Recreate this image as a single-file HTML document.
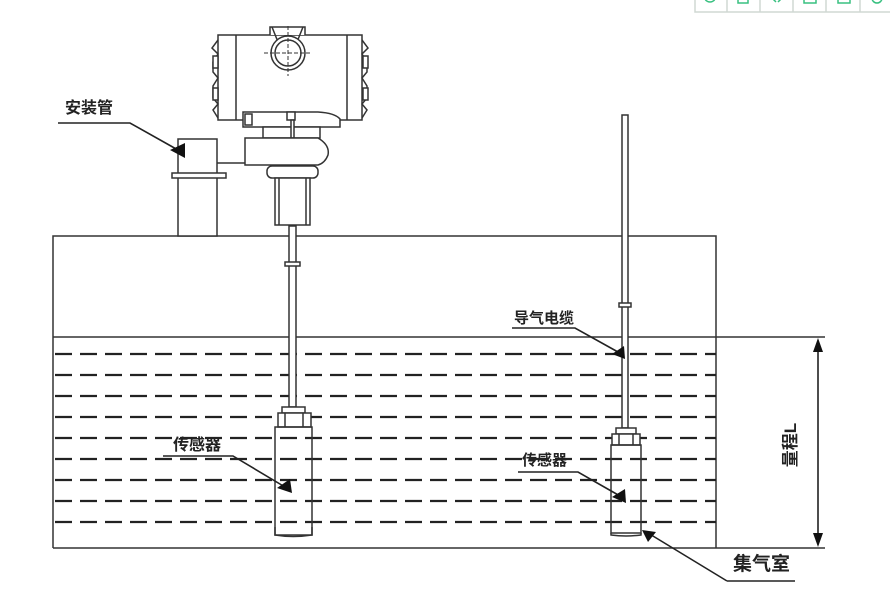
<!DOCTYPE html>
<html><head><meta charset="utf-8"><style>
html,body{margin:0;padding:0;background:#fff;}
svg{display:block}
text{font-family:"Liberation Sans","Noto Sans CJK SC",sans-serif;font-weight:bold;fill:#222}
</style></head><body>
<svg width="890" height="595" viewBox="0 0 890 595" xmlns="http://www.w3.org/2000/svg">
<g stroke="#d0d8d4" fill="none" stroke-width="1.5">
<path d="M695 0 V12 H890"/>
<path d="M727 0V12 M760 0V12 M793 0V12 M826 0V12 M860 0V12"/>
</g>
<g stroke="#38c080" fill="none" stroke-width="1.5">
<path d="M705 -2 a5 4 0 0 0 10 0"/><rect x="738" y="-4" width="10" height="7"/><path d="M772 -2 l4 4 M782 -2 l-4 4"/><rect x="804" y="-4" width="12" height="7"/><rect x="838" y="-4" width="12" height="7"/><path d="M872 -2 a5 5 0 0 0 10 0"/>
</g>
<g stroke="#333" fill="none" stroke-width="1.5">
<path d="M53 548 V236 H716 V548"/>
<path d="M53 337 H825"/>
<path d="M53 548 H825"/>
</g>
<g stroke="#222" stroke-width="2.2" stroke-dasharray="17 8" fill="none">
<path d="M55 354H716 M55 375H716 M55 396H716 M55 417H716 M55 438H716 M55 459H716 M55 480H716 M55 501H716 M55 522H716"/>
</g>
<g stroke="#333" fill="#fff" stroke-width="1.5">
<rect x="178" y="139" width="39" height="97"/>
<rect x="172" y="173" width="54" height="5"/>
<path d="M217 163 H245" fill="none"/>
<rect x="218" y="35" width="144" height="85"/>
<path d="M236 35V120 M347 35V120" fill="none"/>
<path d="M218 40 l-6 8 l6 6 l-5 8 v10 l5 6 l-5 8 v12 l5 6 l-5 6 l5 8" fill="none"/>
<path d="M362 40 l6 8 l-6 6 l5 8 v10 l-5 6 l5 8 v12 l-5 6 l5 6 l-5 8" fill="none"/>
<rect x="213" y="56" width="5" height="12"/><rect x="213" y="88" width="5" height="12"/>
<rect x="363" y="56" width="5" height="12"/><rect x="363" y="88" width="5" height="12"/>
<path d="M270 35 V27 H305 V35" />
<path d="M272 27 L278 42 M303 27 L297 42" fill="none"/>
<circle cx="288" cy="53" r="17"/>
<circle cx="288" cy="53" r="13"/>
<path d="M264 53H312 M288 26V76" stroke-dasharray="4 2" stroke-width="1" fill="none"/>
<path d="M243 112 H318 Q335 113 340 119 V127 H243 Z"/>
<rect x="245" y="114" width="7" height="11"/>
<rect x="263" y="127" width="57" height="11"/>
<rect x="287" y="112" width="8" height="8"/>
<rect x="291" y="120" width="3" height="18"/>
<path d="M245 138 H318 Q330 145 328 155 Q325 163 318 165 H245 Z"/>
<rect x="267" y="166" width="51" height="12" rx="5"/>
<rect x="275" y="178" width="35" height="47"/>
<path d="M279 178V225 M306 178V225" fill="none"/>
<rect x="289" y="226" width="7" height="181"/>
<rect x="285" y="262" width="15" height="4"/>
<rect x="282" y="407" width="23" height="6"/>
<rect x="278" y="413" width="33" height="14"/>
<path d="M285 413V427 M303 413V427" fill="none"/>
<rect x="275" y="427" width="37" height="108" fill="none"/>
<path d="M275 527 V535 Q293 538 312 535 V527" fill="none"/>
<rect x="622" y="115" width="6" height="313"/>
<rect x="619" y="303" width="12" height="4"/>
<rect x="616" y="428" width="20" height="6"/>
<rect x="612" y="434" width="28" height="11"/>
<path d="M619 434V445 M633 434V445" fill="none"/>
<rect x="611" y="445" width="30" height="88" fill="none"/>
<path d="M611 533 V535 Q626 537 641 535 V533" fill="none"/>
</g>
<g stroke="#222" stroke-width="1.6" fill="none">
<path d="M58 123 H130 L178 150"/>
<path d="M163 456 H233 L285 487"/>
<path d="M518 472 H578 L620 496"/>
<path d="M512 328 H575 L618 352"/>
<path d="M727 581 H795 M727 581 L648 533"/>
<path d="M818 345 V540"/>
</g>
<g fill="#111">
<path d="M170 150 L185 143 L185 158 Z"/>
<path d="M277 488 L290 479 L292 493 Z"/>
<path d="M612 497 L625 489 L626 503 Z"/>
<path d="M612 354 L624 346 L625 359 Z"/>
<path d="M642 530 L656 532 L648 542 Z"/>
<path d="M818 338 L813 352 L823 352 Z"/>
<path d="M818 547 L813 533 L823 533 Z"/>
</g>
<text x="65" y="113" font-size="16">安装管</text>
<text x="173" y="450" font-size="16">传感器</text>
<text x="522" y="465" font-size="15">传感器</text>
<text x="514" y="323" font-size="15">导气电缆</text>
<text x="733" y="570" font-size="19">集气室</text>
<text transform="translate(796,445) rotate(-90)" font-size="17" text-anchor="middle">量程L</text>
</svg>
</body></html>
